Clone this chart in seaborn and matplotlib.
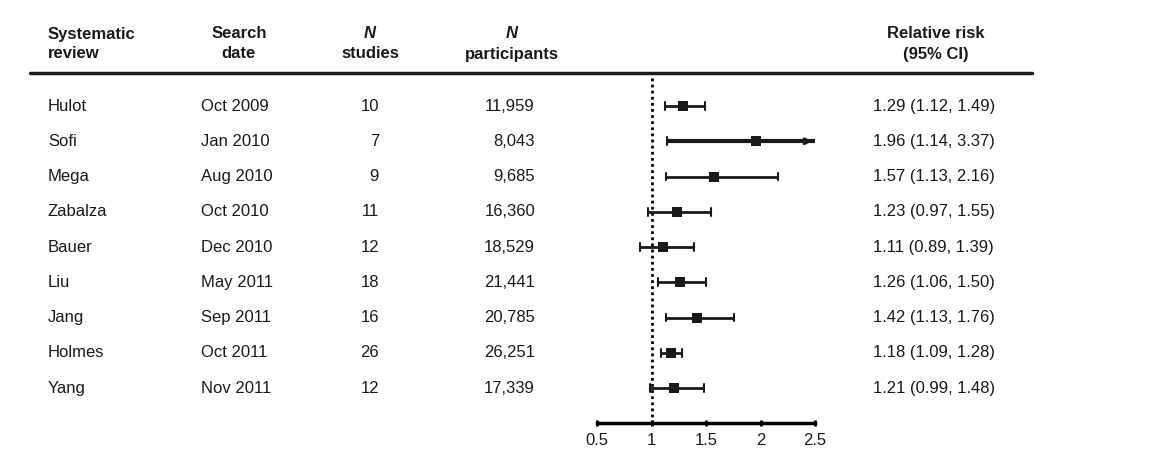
import matplotlib
matplotlib.use("Agg")
import matplotlib.pyplot as plt
import seaborn as sns
import pandas as pd
from matplotlib.transforms import blended_transform_factory

reviews = ["Hulot", "Sofi", "Mega", "Zabalza", "Bauer", "Liu", "Jang", "Holmes", "Yang"]
dates = ["Oct 2009", "Jan 2010", "Aug 2010", "Oct 2010", "Dec 2010", "May 2011", "Sep 2011", "Oct 2011", "Nov 2011"]
n_studies = [10, 7, 9, 11, 12, 18, 16, 26, 12]
n_participants = ["11,959", "8,043", "9,685", "16,360", "18,529", "21,441", "20,785", "26,251", "17,339"]
rr = [1.29, 1.96, 1.57, 1.23, 1.11, 1.26, 1.42, 1.18, 1.21]
lo = [1.12, 1.14, 1.13, 0.97, 0.89, 1.06, 1.13, 1.09, 0.99]
hi = [1.49, 3.37, 2.16, 1.55, 1.39, 1.50, 1.76, 1.28, 1.48]
x_ticks = [0.5, 1, 1.5, 2, 2.5]
x_tick_labels = ["0.5", "1", "1.5", "2", "2.5"]

sns.set_theme(style="white")
plt.rcParams["font.family"] = ["Liberation Sans", "DejaVu Sans"]

W, H = 1151, 474
fig = plt.figure(figsize=(W / 100, H / 100), dpi=100)

# forest axes placed in pixel space
ax_left, ax_right = 597, 815
ax_top, ax_bottom = 75, 423
ax = fig.add_axes([ax_left / W, (H - ax_bottom) / H, (ax_right - ax_left) / W, (ax_bottom - ax_top) / H])
ax.set_facecolor("none")
xmin, xmax = 0.5, 2.5
ax.set_xlim(xmin, xmax)
row0, rowstep = 106, 35.25
ax.set_ylim((ax_bottom - row0) / rowstep, (ax_top - row0) / rowstep)

rows = list(range(len(reviews)))
df = pd.DataFrame({"row": rows, "rr": rr, "lo": lo, "hi": hi, "review": reviews})

# reference line
ax.axvline(1, color="black", lw=2, ls=(0, (1, 1.2)), zorder=1)

cap = 0.11
for i, (l, h) in enumerate(zip(lo, hi)):
    thick = h > xmax
    lw = 3 if thick else 2
    hh = min(h, xmax)
    ax.hlines(i, l, hh, color="#1a1a1a", lw=lw, zorder=2)
    ax.plot([l, l], [i - cap, i + cap], color="#1a1a1a", lw=1.5, zorder=2)
    if thick:
        ax.annotate("", xy=(xmax, i), xytext=(xmax - 0.08, i),
                    arrowprops=dict(arrowstyle="-|>", color="#1a1a1a", lw=2, mutation_scale=9), zorder=3)
    else:
        ax.plot([hh, hh], [i - cap, i + cap], color="#1a1a1a", lw=1.5, zorder=2)

sns.scatterplot(data=df, x="rr", y="row", marker="s", s=48, color="#1a1a1a",
                edgecolor="#1a1a1a", linewidth=0, ax=ax, zorder=4, legend=False)

for side in ["left", "right", "top"]:
    ax.spines[side].set_visible(False)
ax.spines["bottom"].set_linewidth(2.5)
ax.spines["bottom"].set_color("black")
ax.set_yticks([])
ax.set_xticks(x_ticks)
ax.set_xticklabels(x_tick_labels, fontsize=12, color="#1a1a1a")
ax.tick_params(axis="x", direction="inout", length=5, width=2, color="black", pad=5, bottom=True)
ax.set_xlabel("")
ax.set_ylabel("")

# text columns using blended transform: figure x (pixels), data y
tr = blended_transform_factory(fig.transFigure, ax.transData)
fs = 12
def fx(px):
    return px / W

for i in rows:
    ax.text(fx(48), i, reviews[i], transform=tr, ha="left", va="center", fontsize=fs, color="#1a1a1a", clip_on=False)
    ax.text(fx(201), i, dates[i], transform=tr, ha="left", va="center", fontsize=fs, color="#1a1a1a", clip_on=False)
    ax.text(fx(379), i, str(n_studies[i]), transform=tr, ha="right", va="center", fontsize=fs, color="#1a1a1a", clip_on=False)
    ax.text(fx(535), i, n_participants[i], transform=tr, ha="right", va="center", fontsize=fs, color="#1a1a1a", clip_on=False)
    ax.text(fx(873), i, f"{rr[i]:.2f} ({lo[i]:.2f}, {hi[i]:.2f})", transform=tr, ha="left", va="center",
            fontsize=fs, color="#1a1a1a", clip_on=False)

# headers (figure pixel coords)
def fy(py):
    return 1 - py / H

hkw = dict(fontsize=fs, fontweight="bold", color="#1a1a1a", va="center")
fig.text(fx(48), fy(34), "Systematic", ha="left", **hkw)
fig.text(fx(48), fy(54), "review", ha="left", **hkw)
fig.text(fx(239), fy(34), "Search", ha="center", **hkw)
fig.text(fx(239), fy(54), "date", ha="center", **hkw)
fig.text(fx(370), fy(34), "N", ha="center", style="italic", **hkw)
fig.text(fx(370), fy(54), "studies", ha="center", **hkw)
fig.text(fx(512), fy(34), "N", ha="center", style="italic", **hkw)
fig.text(fx(512), fy(54), "participants", ha="center", **hkw)
fig.text(fx(936), fy(34), "Relative risk", ha="center", **hkw)
fig.text(fx(936), fy(54), "(95% CI)", ha="center", **hkw)

# header rule
fig.add_artist(plt.Line2D([fx(30), fx(1032)], [fy(73), fy(73)], color="#1a1a1a", lw=2.5))

fig.savefig("out.png", dpi=100, facecolor="white")
